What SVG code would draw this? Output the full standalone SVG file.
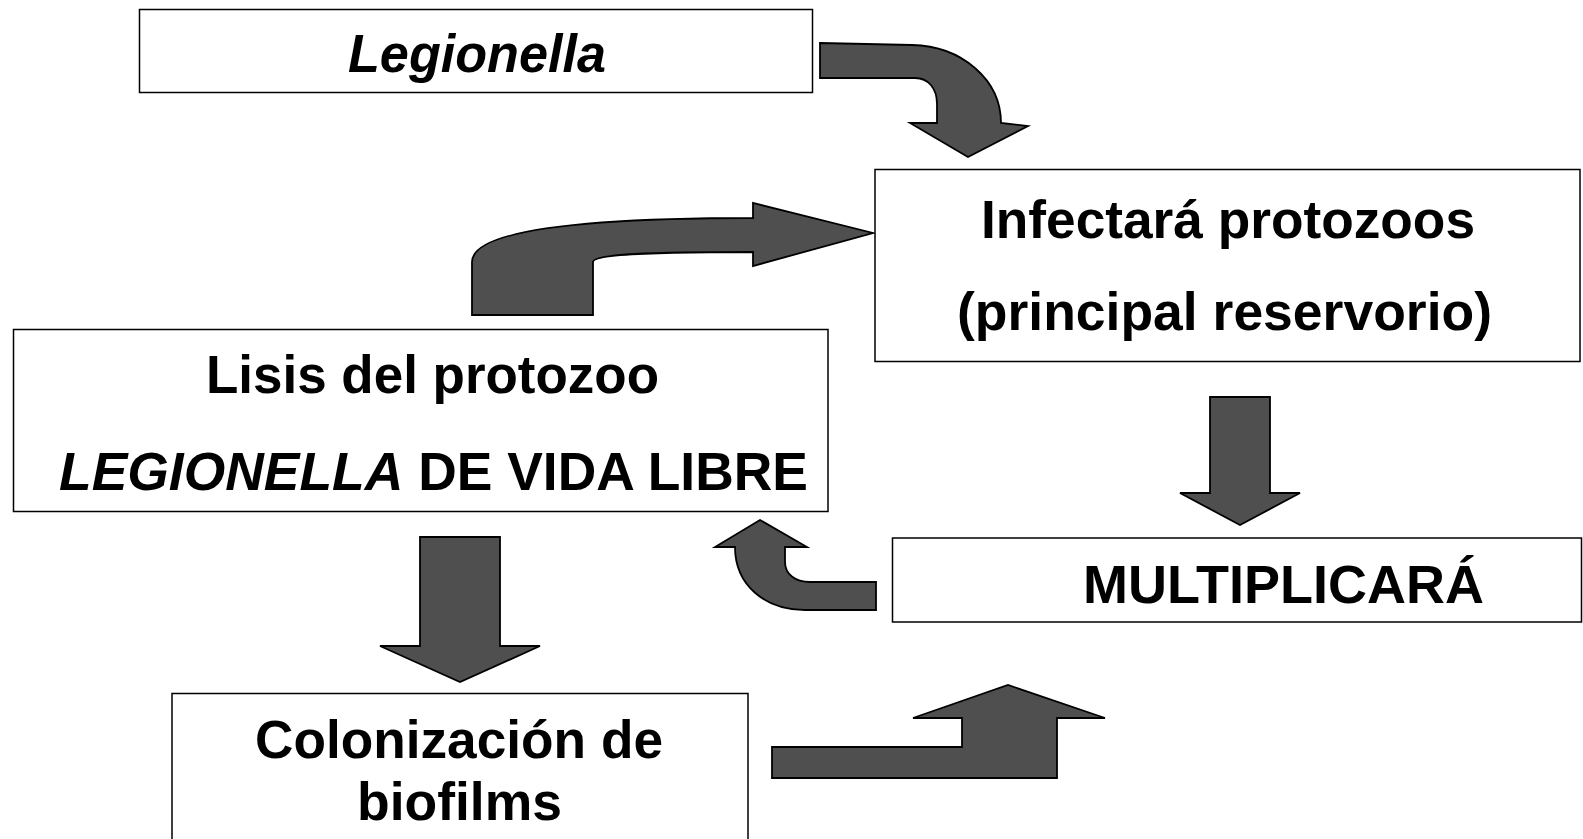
<svg xmlns="http://www.w3.org/2000/svg" width="1583" height="839" viewBox="0 0 1583 839">
<style>
.box{fill:#ffffff;stroke:#000000;stroke-width:1.5}
.arrow{fill:#4f4f4f;stroke:#000000;stroke-width:1.8;stroke-linejoin:miter}
.t{font-family:"Liberation Sans",Arial,sans-serif;font-weight:bold;font-size:53px;fill:#000000}
.i{font-style:italic}
</style>
<rect width="1583" height="839" fill="#ffffff"/>
<g id="connectors">
<path class="arrow" d="M820,43 L912,45 C962,46 1001,80 1001,123 L1028,126 L968,157 L910,123 L937,123 L937,104 C937,88 928,78 915,78 L820,78 Z"/>
<path class="arrow" d="M472,315 L472,262 C472,232 570,218 753,218 L753,203 L873,233 L753,266 L753,252 C650,252 593,254 593,262 L593,315 Z"/>
<path class="arrow" d="M1210,397 L1270,397 L1270,493 L1300,493 L1240,525 L1180,493 L1210,493 Z"/>
<path class="arrow" d="M760,520 L807,547 L785,547 L785,562 C785,574 795,582 810,582 L876,582 L876,610 L805,610 C765,610 735,585 735,547 L715,547 Z"/>
<path class="arrow" d="M420,537 L500,537 L500,646 L540,646 L460,682 L380,646 L420,646 Z"/>
<path class="arrow" d="M772,747 L962,747 L962,718 L913,718 L1008,685 L1105,718 L1057,718 L1057,778 L772,778 Z"/>
</g>
<g id="node-legionella">
<rect class="box" x="139.5" y="9.5" width="673" height="83"/>
<text class="t i" x="348" y="72" textLength="258" lengthAdjust="spacingAndGlyphs">Legionella</text>
</g>
<g id="node-infectara">
<rect class="box" x="875" y="169.5" width="705" height="192"/>
<text class="t" x="981" y="238" textLength="494" lengthAdjust="spacingAndGlyphs">Infectará protozoos</text>
<text class="t" x="957" y="330" textLength="535" lengthAdjust="spacingAndGlyphs">(principal reservorio)</text>
</g>
<g id="node-lisis">
<rect class="box" x="13.5" y="329.5" width="814.5" height="182"/>
<text class="t" x="206" y="393" textLength="453" lengthAdjust="spacingAndGlyphs">Lisis del protozoo</text>
<text class="t" x="59" y="490" textLength="749" lengthAdjust="spacingAndGlyphs"><tspan class="i">LEGIONELLA</tspan> DE VIDA LIBRE</text>
</g>
<g id="node-multiplicara">
<rect class="box" x="892.5" y="538" width="689" height="84"/>
<text class="t" x="1083" y="603" textLength="401" lengthAdjust="spacingAndGlyphs">MULTIPLICARÁ</text>
</g>
<g id="node-colonizacion">
<rect class="box" x="172" y="693.5" width="576" height="160"/>
<text class="t" x="255" y="758" textLength="408" lengthAdjust="spacingAndGlyphs">Colonización de</text>
<text class="t" x="357" y="820" textLength="205" lengthAdjust="spacingAndGlyphs">biofilms</text>
</g>
</svg>
